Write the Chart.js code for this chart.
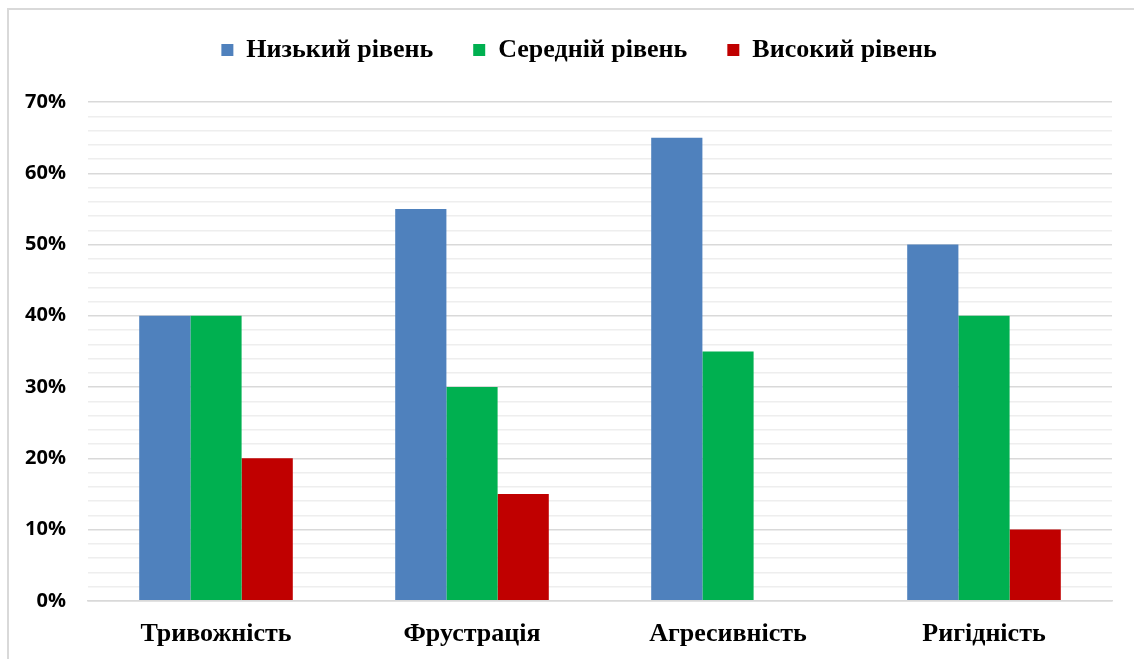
<!DOCTYPE html>
<html>
<head>
<meta charset="utf-8">
<script src="https://cdn.jsdelivr.net/npm/chart.js@4"></script>
<style>
  html, body { margin: 0; padding: 0; background: #fff; overflow: hidden; }
  #frame { position: absolute; left: 7px; top: 8px; width: 1140px; height: 660px; border: 2px solid #d9d9d9; box-sizing: border-box; }
  #wrap { position: absolute; left: 0; top: 0; width: 1134px; height: 659px; }
</style>
</head>
<body>
<div id="frame"></div>
<div id="wrap"><canvas id="chart"></canvas></div>
<script>
// data
const categories = ['Тривожність', 'Фрустрація', 'Агресивність', 'Ригідність'];
const lowLevel = [40, 55, 65, 50];
const midLevel = [40, 30, 35, 40];
const highLevel = [20, 15, 0, 10];
const seriesNames = ['Низький рівень', 'Середній рівень', 'Високий рівень'];

document.addEventListener('DOMContentLoaded', function() {
    const ctx = document.getElementById('chart').getContext('2d');

    // extra space under legend, legend centred over the plot
    const legendGap = {
        id: 'legendGap',
        beforeInit(chart) {
            const fit = chart.legend.fit;
            chart.legend.fit = function() {
                fit.bind(chart.legend)();
                this.height += 29;
            };
        },
        afterLayout(chart) {
            chart.legend.left += 23;
            chart.legend.right += 23;
        }
    };

    new Chart(ctx, {
        type: 'bar',
        data: {
            labels: categories,
            datasets: [
                { label: seriesNames[0], data: lowLevel, backgroundColor: '#4f81bd' },
                { label: seriesNames[1], data: midLevel, backgroundColor: '#00b050' },
                { label: seriesNames[2], data: highLevel, backgroundColor: '#c00000' }
            ]
        },
        options: {
            responsive: true,
            maintainAspectRatio: false,
            animation: false,
            datasets: {
                bar: { categoryPercentage: 0.6, barPercentage: 1.0 }
            },
            layout: { padding: { top: -3, right: 22, bottom: -9, left: 0 } },
            plugins: {
                legend: {
                    position: 'top',
                    labels: {
                        boxWidth: 12,
                        boxHeight: 12,
                        padding: 40,
                        color: '#000',
                        font: { family: '"Liberation Serif", "Times New Roman", serif', size: 26, weight: 'bold' }
                    }
                },
                tooltip: { enabled: false }
            },
            scales: {
                x: {
                    grid: { display: false, drawTicks: false },
                    border: { display: true, color: '#d9d9d9', width: 1.5 },
                    ticks: {
                        padding: 18,
                        color: '#000',
                        font: { family: '"Liberation Serif", "Times New Roman", serif', size: 26, weight: 'bold' }
                    }
                },
                y: {
                    min: 0,
                    max: 70,
                    afterFit: function(scale) { scale.width = 88; },
                    border: { display: false },
                    grid: {
                        drawTicks: false,
                        color: function(c) { return c.tick && c.tick.value % 10 === 0 ? '#d9d9d9' : '#eeeeee'; },
                        lineWidth: 1.5
                    },
                    ticks: {
                        stepSize: 2,
                        padding: 22,
                        color: '#000',
                        autoSkip: false,
                        font: { family: '"Open Sans", sans-serif', size: 20, weight: 'bold' },
                        callback: function(v) { return v % 10 === 0 ? v + '%' : ''; }
                    }
                }
            }
        },
        plugins: [legendGap]
    });
});
</script>
</body>
</html>
